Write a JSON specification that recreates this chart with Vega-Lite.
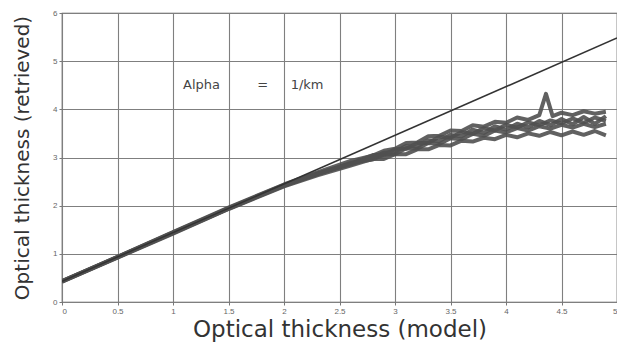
{
  "$schema": "https://vega.github.io/schema/vega-lite/v6.json",
  "width": 555,
  "height": 289,
  "autosize": {"type": "none"},
  "padding": {"left": 62, "top": 13, "right": 0, "bottom": 41},
  "background": "#ffffff",
  "config": {
    "view": {"stroke": "#555555", "strokeWidth": 1.2},
    "font": "Liberation Sans",
    "axis": {
      "grid": true,
      "gridColor": "#7f7f7f",
      "gridWidth": 1.1,
      "gridOpacity": 1,
      "domain": false,
      "tickColor": "#777777",
      "tickSize": 3,
      "labelFont": "Liberation Sans",
      "labelFontSize": 8,
      "labelColor": "#666666",
      "titleFont": "DejaVu Sans",
      "titleFontWeight": "normal",
      "titleColor": "#333333"
    }
  },
  "datasets": {
    "retrieved": [
      {"tau": 0, "ret": 0.43, "run": "a"}, {"tau": 0.5, "ret": 0.94, "run": "a"}, {"tau": 1, "ret": 1.45, "run": "a"}, {"tau": 1.5, "ret": 1.96, "run": "a"}, {"tau": 2, "ret": 2.44, "run": "a"}, {"tau": 2.3, "ret": 2.69, "run": "a"},
      {"tau": 2.6, "ret": 2.93, "run": "a"}, {"tau": 2.8, "ret": 3.04, "run": "a"}, {"tau": 2.9, "ret": 3.14, "run": "a"}, {"tau": 3.0, "ret": 3.18, "run": "a"}, {"tau": 3.1, "ret": 3.3, "run": "a"}, {"tau": 3.2, "ret": 3.31, "run": "a"}, {"tau": 3.3, "ret": 3.44, "run": "a"}, {"tau": 3.4, "ret": 3.45, "run": "a"}, {"tau": 3.5, "ret": 3.56, "run": "a"}, {"tau": 3.6, "ret": 3.55, "run": "a"}, {"tau": 3.7, "ret": 3.67, "run": "a"}, {"tau": 3.8, "ret": 3.64, "run": "a"}, {"tau": 3.9, "ret": 3.74, "run": "a"}, {"tau": 4.0, "ret": 3.72, "run": "a"}, {"tau": 4.1, "ret": 3.83, "run": "a"}, {"tau": 4.2, "ret": 3.78, "run": "a"}, {"tau": 4.3, "ret": 3.88, "run": "a"}, {"tau": 4.36, "ret": 4.32, "run": "a"}, {"tau": 4.42, "ret": 3.86, "run": "a"}, {"tau": 4.5, "ret": 3.93, "run": "a"}, {"tau": 4.6, "ret": 3.88, "run": "a"}, {"tau": 4.7, "ret": 3.96, "run": "a"}, {"tau": 4.8, "ret": 3.91, "run": "a"}, {"tau": 4.9, "ret": 3.95, "run": "a"},
      {"tau": 0, "ret": 0.43, "run": "b"}, {"tau": 0.5, "ret": 0.93, "run": "b"}, {"tau": 1, "ret": 1.44, "run": "b"}, {"tau": 1.5, "ret": 1.95, "run": "b"}, {"tau": 2, "ret": 2.43, "run": "b"}, {"tau": 2.3, "ret": 2.67, "run": "b"},
      {"tau": 2.6, "ret": 2.87, "run": "b"}, {"tau": 2.8, "ret": 3.05, "run": "b"}, {"tau": 2.9, "ret": 3.05, "run": "b"}, {"tau": 3.0, "ret": 3.17, "run": "b"}, {"tau": 3.1, "ret": 3.18, "run": "b"}, {"tau": 3.2, "ret": 3.3, "run": "b"}, {"tau": 3.3, "ret": 3.3, "run": "b"}, {"tau": 3.4, "ret": 3.43, "run": "b"}, {"tau": 3.5, "ret": 3.41, "run": "b"}, {"tau": 3.6, "ret": 3.53, "run": "b"}, {"tau": 3.7, "ret": 3.49, "run": "b"}, {"tau": 3.8, "ret": 3.61, "run": "b"}, {"tau": 3.9, "ret": 3.56, "run": "b"}, {"tau": 4.0, "ret": 3.68, "run": "b"}, {"tau": 4.1, "ret": 3.62, "run": "b"}, {"tau": 4.2, "ret": 3.73, "run": "b"}, {"tau": 4.3, "ret": 3.67, "run": "b"}, {"tau": 4.4, "ret": 3.77, "run": "b"}, {"tau": 4.5, "ret": 3.71, "run": "b"}, {"tau": 4.6, "ret": 3.81, "run": "b"}, {"tau": 4.7, "ret": 3.72, "run": "b"}, {"tau": 4.8, "ret": 3.83, "run": "b"}, {"tau": 4.9, "ret": 3.76, "run": "b"},
      {"tau": 0, "ret": 0.42, "run": "c"}, {"tau": 0.5, "ret": 0.93, "run": "c"}, {"tau": 1, "ret": 1.43, "run": "c"}, {"tau": 1.5, "ret": 1.94, "run": "c"}, {"tau": 2, "ret": 2.41, "run": "c"}, {"tau": 2.3, "ret": 2.65, "run": "c"},
      {"tau": 2.6, "ret": 2.89, "run": "c"}, {"tau": 2.8, "ret": 2.96, "run": "c"}, {"tau": 2.9, "ret": 3.06, "run": "c"}, {"tau": 3.0, "ret": 3.07, "run": "c"}, {"tau": 3.1, "ret": 3.19, "run": "c"}, {"tau": 3.2, "ret": 3.18, "run": "c"}, {"tau": 3.3, "ret": 3.3, "run": "c"}, {"tau": 3.4, "ret": 3.28, "run": "c"}, {"tau": 3.5, "ret": 3.4, "run": "c"}, {"tau": 3.6, "ret": 3.38, "run": "c"}, {"tau": 3.7, "ret": 3.49, "run": "c"}, {"tau": 3.8, "ret": 3.45, "run": "c"}, {"tau": 3.9, "ret": 3.56, "run": "c"}, {"tau": 4.0, "ret": 3.52, "run": "c"}, {"tau": 4.1, "ret": 3.61, "run": "c"}, {"tau": 4.2, "ret": 3.56, "run": "c"}, {"tau": 4.3, "ret": 3.65, "run": "c"}, {"tau": 4.4, "ret": 3.6, "run": "c"}, {"tau": 4.5, "ret": 3.68, "run": "c"}, {"tau": 4.6, "ret": 3.62, "run": "c"}, {"tau": 4.7, "ret": 3.7, "run": "c"}, {"tau": 4.8, "ret": 3.63, "run": "c"}, {"tau": 4.9, "ret": 3.7, "run": "c"},
      {"tau": 0, "ret": 0.42, "run": "d"}, {"tau": 0.5, "ret": 0.92, "run": "d"}, {"tau": 1, "ret": 1.42, "run": "d"}, {"tau": 1.5, "ret": 1.93, "run": "d"}, {"tau": 2, "ret": 2.4, "run": "d"}, {"tau": 2.3, "ret": 2.63, "run": "d"},
      {"tau": 2.6, "ret": 2.83, "run": "d"}, {"tau": 2.8, "ret": 2.97, "run": "d"}, {"tau": 2.9, "ret": 2.97, "run": "d"}, {"tau": 3.0, "ret": 3.07, "run": "d"}, {"tau": 3.1, "ret": 3.07, "run": "d"}, {"tau": 3.2, "ret": 3.17, "run": "d"}, {"tau": 3.3, "ret": 3.17, "run": "d"}, {"tau": 3.4, "ret": 3.26, "run": "d"}, {"tau": 3.5, "ret": 3.25, "run": "d"}, {"tau": 3.6, "ret": 3.35, "run": "d"}, {"tau": 3.7, "ret": 3.33, "run": "d"}, {"tau": 3.8, "ret": 3.41, "run": "d"}, {"tau": 3.9, "ret": 3.38, "run": "d"}, {"tau": 4.0, "ret": 3.47, "run": "d"}, {"tau": 4.1, "ret": 3.42, "run": "d"}, {"tau": 4.2, "ret": 3.5, "run": "d"}, {"tau": 4.3, "ret": 3.45, "run": "d"}, {"tau": 4.4, "ret": 3.53, "run": "d"}, {"tau": 4.5, "ret": 3.46, "run": "d"}, {"tau": 4.6, "ret": 3.54, "run": "d"}, {"tau": 4.7, "ret": 3.47, "run": "d"}, {"tau": 4.8, "ret": 3.55, "run": "d"}, {"tau": 4.9, "ret": 3.46, "run": "d"},
      {"tau": 0, "ret": 0.43, "run": "e"}, {"tau": 0.5, "ret": 0.93, "run": "e"}, {"tau": 1, "ret": 1.44, "run": "e"}, {"tau": 1.5, "ret": 1.94, "run": "e"}, {"tau": 2, "ret": 2.42, "run": "e"}, {"tau": 2.3, "ret": 2.66, "run": "e"},
      {"tau": 2.6, "ret": 2.86, "run": "e"}, {"tau": 2.8, "ret": 3.0, "run": "e"}, {"tau": 2.9, "ret": 3.1, "run": "e"}, {"tau": 3.0, "ret": 3.12, "run": "e"}, {"tau": 3.1, "ret": 3.24, "run": "e"}, {"tau": 3.2, "ret": 3.23, "run": "e"}, {"tau": 3.3, "ret": 3.36, "run": "e"}, {"tau": 3.4, "ret": 3.34, "run": "e"}, {"tau": 3.5, "ret": 3.47, "run": "e"}, {"tau": 3.6, "ret": 3.44, "run": "e"}, {"tau": 3.7, "ret": 3.58, "run": "e"}, {"tau": 3.8, "ret": 3.51, "run": "e"}, {"tau": 3.9, "ret": 3.65, "run": "e"}, {"tau": 4.0, "ret": 3.58, "run": "e"}, {"tau": 4.1, "ret": 3.7, "run": "e"}, {"tau": 4.2, "ret": 3.63, "run": "e"}, {"tau": 4.3, "ret": 3.76, "run": "e"}, {"tau": 4.4, "ret": 3.67, "run": "e"}, {"tau": 4.5, "ret": 3.8, "run": "e"}, {"tau": 4.6, "ret": 3.69, "run": "e"}, {"tau": 4.7, "ret": 3.84, "run": "e"}, {"tau": 4.8, "ret": 3.7, "run": "e"}, {"tau": 4.9, "ret": 3.86, "run": "e"}
    ],
    "reference": [
      {"tau": 0, "ret": 0.43},
      {"tau": 5, "ret": 5.48}
    ],
    "notes": [
      {"tau": 1.09, "ret": 4.5, "label": "Alpha"},
      {"tau": 1.76, "ret": 4.5, "label": "="},
      {"tau": 2.06, "ret": 4.5, "label": "1/km"}
    ]
  },
  "layer": [
    {
      "data": {"name": "retrieved"},
      "mark": {"type": "line", "color": "#505050", "strokeWidth": 4, "opacity": 0.9, "strokeJoin": "round", "clip": true},
      "encoding": {
        "x": {
          "field": "tau", "type": "quantitative",
          "scale": {"domain": [0, 5], "nice": false},
          "axis": {"values": [0, 0.5, 1, 1.5, 2, 2.5, 3, 3.5, 4, 4.5, 5], "format": "~g", "title": "Optical thickness (model)", "titleFontSize": 23, "titlePadding": 3, "labelPadding": 2}
        },
        "y": {
          "field": "ret", "type": "quantitative",
          "scale": {"domain": [0, 6], "nice": false},
          "axis": {"values": [0, 1, 2, 3, 4, 5, 6], "format": "~g", "title": "Optical thickness (retrieved)", "titleFontSize": 20, "titlePadding": 20, "labelPadding": 2}
        },
        "detail": {"field": "run"}
      }
    },
    {
      "data": {"name": "reference"},
      "mark": {"type": "line", "color": "#333333", "strokeWidth": 1.5, "clip": true},
      "encoding": {
        "x": {"field": "tau", "type": "quantitative"},
        "y": {"field": "ret", "type": "quantitative"}
      }
    },
    {
      "data": {"name": "notes"},
      "mark": {"type": "text", "font": "DejaVu Sans", "fontSize": 13, "color": "#444444", "align": "left", "baseline": "middle"},
      "encoding": {
        "x": {"field": "tau", "type": "quantitative"},
        "y": {"field": "ret", "type": "quantitative"},
        "text": {"field": "label"}
      }
    }
  ]
}
